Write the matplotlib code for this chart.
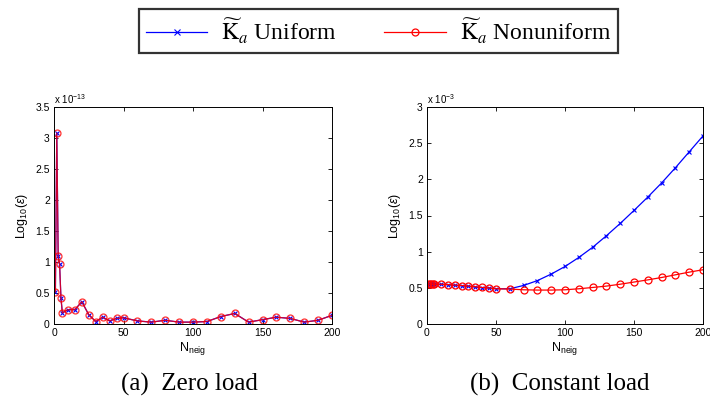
import numpy as np
import matplotlib.pyplot as plt
from matplotlib.ticker import FormatStrFormatter, MultipleLocator

plt.rcParams['font.family'] = ['Liberation Sans', 'DejaVu Sans']
plt.rcParams['mathtext.fontset'] = 'custom'
plt.rcParams['mathtext.rm'] = 'Liberation Sans'
plt.rcParams['mathtext.it'] = 'Liberation Sans:italic'

# (a) zero load, values in units of 1e-13
n_zero = [1, 2, 3, 4, 5, 6, 10, 15, 20, 25, 30, 35, 40, 45, 50, 60, 70, 80, 90,
          100, 110, 120, 130, 140, 150, 160, 170, 180, 190, 200]
zero_uniform = [0.52, 3.08, 1.09, 0.97, 0.42, 0.18, 0.23, 0.23, 0.36, 0.15, 0.04,
                0.11, 0.05, 0.09, 0.10, 0.05, 0.03, 0.06, 0.03, 0.03, 0.04, 0.12,
                0.17, 0.03, 0.07, 0.11, 0.09, 0.03, 0.06, 0.14]
zero_nonuniform = [0.52, 3.08, 1.09, 0.97, 0.42, 0.18, 0.23, 0.23, 0.36, 0.15, 0.04,
                   0.11, 0.05, 0.09, 0.10, 0.05, 0.03, 0.06, 0.03, 0.03, 0.04, 0.12,
                   0.17, 0.03, 0.07, 0.11, 0.09, 0.03, 0.06, 0.14]

# (b) constant load, values in units of 1e-3
n_const = [1, 2, 3, 4, 5, 10, 15, 20, 25, 30, 35, 40, 45, 50, 60, 70, 80, 90,
           100, 110, 120, 130, 140, 150, 160, 170, 180, 190, 200]
const_uniform = [0.55, 0.55, 0.55, 0.55, 0.55, 0.547, 0.542, 0.533, 0.528, 0.52,
                 0.51, 0.50, 0.496, 0.487, 0.487, 0.533, 0.60, 0.69, 0.795, 0.92,
                 1.06, 1.22, 1.39, 1.57, 1.755, 1.95, 2.16, 2.38, 2.60]
const_nonuniform = [0.55, 0.55, 0.55, 0.55, 0.55, 0.55, 0.545, 0.538, 0.532, 0.524,
                    0.515, 0.505, 0.498, 0.487, 0.483, 0.473, 0.469, 0.469, 0.473,
                    0.487, 0.505, 0.524, 0.55, 0.58, 0.61, 0.643, 0.68, 0.717, 0.75]

W, H = 710, 401
fig = plt.figure(figsize=(W / 100, H / 100), dpi=100)


def px_axes(x0, x1, ytop, ybot):
    return fig.add_axes([x0 / W, 1 - ybot / H, (x1 - x0) / W, (ybot - ytop) / H])


def style(ax, ymax, step, expo):
    ax.set_xlim(0, 200)
    ax.set_ylim(0, ymax)
    ax.xaxis.set_major_locator(MultipleLocator(50))
    ax.yaxis.set_major_locator(MultipleLocator(step))
    ax.yaxis.set_major_formatter(FormatStrFormatter('%g'))
    ax.tick_params(direction='in', top=True, right=True, labelsize=7.5,
                   length=3, width=0.6, pad=3)
    for s in ax.spines.values():
        s.set_linewidth(0.7)
    ax.set_xlabel(r'N$_{\mathrm{neig}}$', fontsize=9, labelpad=1)
    ax.set_ylabel(r'Log$_{10}$($\epsilon$)', fontsize=9, labelpad=4)
    ax.text(0.0, 1.005, r'x 10$^{%d}$' % expo, transform=ax.transAxes,
            fontsize=7, ha='left', va='bottom')


ax1 = px_axes(54, 332, 107, 324)
ax1.plot(n_zero, zero_uniform, color='blue', marker='x', ms=3.5, mew=0.8, lw=0.9)
ax1.plot(n_zero, zero_nonuniform, color='red', marker='o', ms=5, mfc='none',
         mew=0.9, lw=0.9, alpha=0.8)
style(ax1, 3.5, 0.5, -13)

ax2 = px_axes(427, 703, 107, 324)
ax2.plot(n_const, const_uniform, color='blue', marker='x', ms=3.5, mew=0.8, lw=0.9)
ax2.plot(n_const, const_nonuniform, color='red', marker='o', ms=5, mfc='none',
         mew=0.9, lw=0.9)
style(ax2, 3, 0.5, -3)

# legend
serif = {'family': ['Liberation Serif', 'DejaVu Serif'], 'size': 17}
h1, = ax1.plot([], [], color='blue', marker='x', ms=4, mew=0.8, lw=0.9)
h2, = ax1.plot([], [], color='red', marker='o', ms=5, mfc='none', mew=0.9, lw=0.9)
plt.rcParams['mathtext.fontset'] = 'stix'
leg = fig.legend([h1, h2],
                 [r'$\widetilde{\mathrm{K}}_a$ Uniform',
                  r'$\widetilde{\mathrm{K}}_a$ Nonuniform'],
                 loc='center', bbox_to_anchor=(378.5 / W, 1 - 31 / H), ncol=2,
                 prop=serif, frameon=True, fancybox=False, handlelength=2.6,
                 columnspacing=2.0, borderpad=0.3, handletextpad=0.6)
leg.get_frame().set_edgecolor('black')
leg.get_frame().set_linewidth(1.6)

cap = {'family': ['Liberation Serif', 'DejaVu Serif'], 'size': 18}
fig.text(189 / W, 1 - 384 / H, '(a)  Zero load', ha='center', va='center',
         fontdict=cap)
fig.text(560 / W, 1 - 384 / H, '(b)  Constant load', ha='center', va='center',
         fontdict=cap)

fig.savefig('out.png', dpi=100)
